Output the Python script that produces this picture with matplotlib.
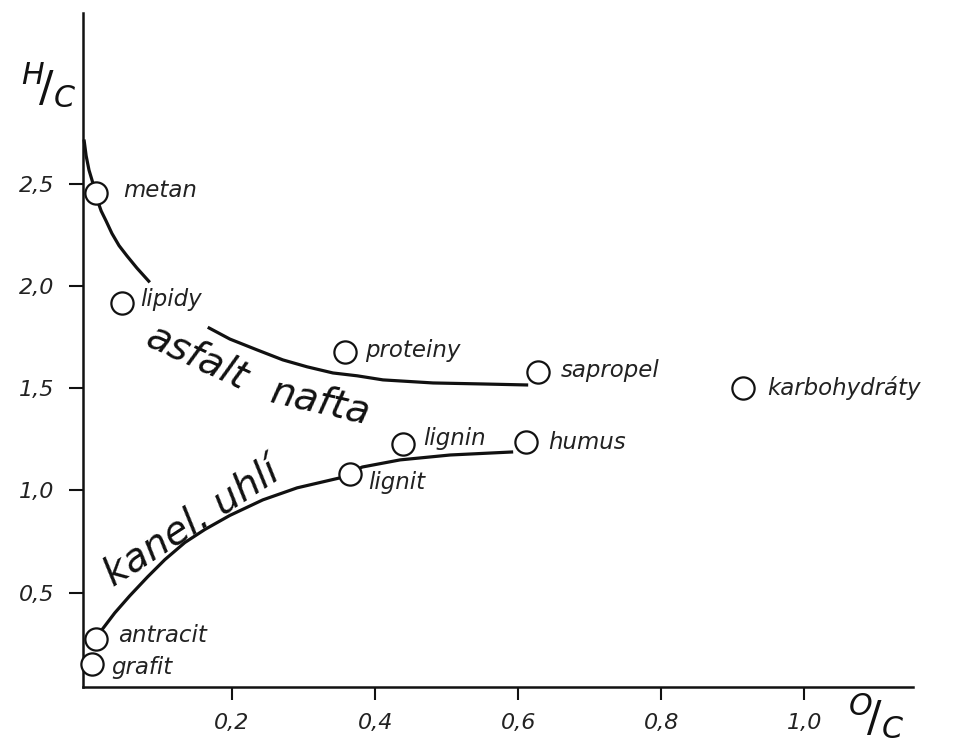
import matplotlib
matplotlib.use("Agg")
import matplotlib.pyplot as plt

# Atomic ratios O/C and H/C of the reference substances
substances = ["metan", "lipidy", "proteiny", "sapropel", "karbohydráty",
              "lignin", "humus", "lignit", "antracit", "grafit"]
oc_ratio = [0.010, 0.046, 0.358, 0.628, 0.915, 0.439, 0.611, 0.365, 0.010, 0.004]
hc_ratio = [2.46, 1.92, 1.68, 1.58, 1.50, 1.23, 1.24, 1.08, 0.27, 0.15]

# label offsets from each marker (pixels)
label_dx = [27, 18, 20, 23, 24, 20, 22, 18, 22, 19]
label_dy = [2, 3, 1, 2, 0, 5, -1, -8, 4, -4]

# asphalt / petroleum trend, drawn in two pieces
nafta_a_oc = [-0.007, -0.004, 0.000, 0.006, 0.011, 0.017, 0.024, 0.032,
              0.042, 0.053, 0.067, 0.085]
nafta_a_hc = [2.72, 2.64, 2.57, 2.50, 2.43, 2.37, 2.32, 2.26, 2.20, 2.15,
              2.09, 2.02]
nafta_b_oc = [0.166, 0.197, 0.235, 0.271, 0.305, 0.341, 0.375, 0.411, 0.481,
              0.551, 0.614]
nafta_b_hc = [1.80, 1.742, 1.689, 1.640, 1.606, 1.576, 1.562, 1.542, 1.527,
              1.522, 1.517]

# coal trend (cannel coal)
uhli_oc = [0.018, 0.036, 0.057, 0.082, 0.106, 0.134, 0.162, 0.197, 0.243,
           0.291, 0.351, 0.382, 0.435, 0.505, 0.593]
uhli_hc = [0.317, 0.400, 0.484, 0.577, 0.661, 0.745, 0.809, 0.878, 0.954,
           1.013, 1.062, 1.115, 1.150, 1.174, 1.189]

x_ticks = [0.2, 0.4, 0.6, 0.8, 1.0]
x_tick_labels = ["0,2", "0,4", "0,6", "0,8", "1,0"]
y_ticks = [0.5, 1.0, 1.5, 2.0, 2.5]
y_tick_labels = ["0,5", "1,0", "1,5", "2,0", "2,5"]

plt.rcParams["font.family"] = ["DejaVu Sans"]
plt.rcParams["mathtext.fontset"] = "dejavusans"

ink = "#111111"
text_ink = "#222222"
fig = plt.figure(figsize=(9.64, 7.43), dpi=100)
ax = fig.add_axes([83 / 964, 56 / 743, 830 / 964, 674 / 743])
ax.set_xlim(-0.0084, 1.152)
ax.set_ylim(0.037, 3.34)

for side in ("top", "right"):
    ax.spines[side].set_visible(False)
for side in ("left", "bottom"):
    ax.spines[side].set_linewidth(1.8)
    ax.spines[side].set_color(ink)

ax.set_xticks(x_ticks)
ax.set_xticklabels(x_tick_labels, fontsize=16, fontstyle="italic")
ax.set_yticks(y_ticks)
ax.set_yticklabels(y_tick_labels, fontsize=16, fontstyle="italic")
ax.tick_params(axis="x", direction="out", length=9.5, width=1.5, pad=9, colors=ink)
ax.tick_params(axis="y", direction="out", length=10, width=1.5, pad=11, colors=ink)
ax.tick_params(labelcolor=text_ink)

line_kw = dict(color=ink, lw=2.3, solid_capstyle="butt", solid_joinstyle="round",
               zorder=2, clip_on=False)
ax.plot(nafta_a_oc, nafta_a_hc, **line_kw)
ax.plot(nafta_b_oc, nafta_b_hc, **line_kw)
ax.plot(uhli_oc, uhli_hc, **line_kw)

ax.plot(oc_ratio, hc_ratio, linestyle="none", marker="o", markersize=16,
        markerfacecolor="white", markeredgecolor=ink, markeredgewidth=1.6,
        zorder=3, clip_on=False)

for name, x, y, dx, dy in zip(substances, oc_ratio, hc_ratio, label_dx, label_dy):
    ax.annotate(name, xy=(x, y), xytext=(dx, dy), textcoords="offset pixels",
                ha="left", va="center", fontsize=16.5, fontstyle="italic",
                color=text_ink)

big = dict(fontsize=28, fontstyle="italic", color=ink, ha="center", va="center",
           rotation_mode="anchor")
ax.text(0.151, 1.655, "asfalt", rotation=-25, **big)
ax.text(0.323, 1.434, "nafta", rotation=-13, **big)
ax.text(0.144, 0.84, "kanel. uhlí", rotation=33, **big)

# axis titles as slanted fractions
frac_kw = dict(fontsize=31, color=ink, ha="center", va="center")
fig.text(49 / 964, 1 - 86 / 743, r"$^{H}\!/_{C}$", **frac_kw)
fig.text(876 / 964, 1 - 716 / 743, r"$^{O}\!/_{C}$", **frac_kw)

fig.savefig("out.png", dpi=100, facecolor="white")
